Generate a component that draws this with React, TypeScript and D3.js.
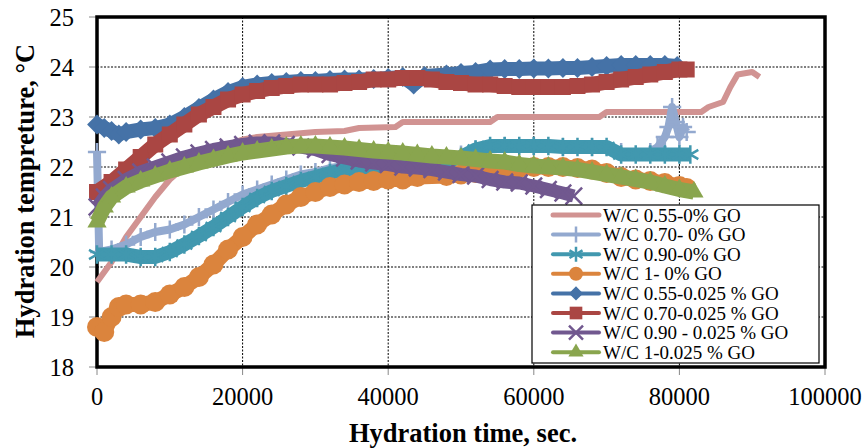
import React from "react";
import * as d3 from "d3";

const W = 867;
const H = 448;
const X0 = 97;
const X1 = 825;
const Y1 = 17;
const Y0 = 367;

const xTicks = [0, 20000, 40000, 60000, 80000, 100000];
const yTicks = [18, 19, 20, 21, 22, 23, 24, 25];

// [time (s), temperature (°C)]
const wc055_0: [number, number][] = [
  [0, 19.7], [2000, 20.1], [4000, 20.6], [6000, 21.0], [8000, 21.4], [10000, 21.75],
  [12000, 22.0], [14000, 22.2], [16000, 22.35], [18000, 22.45], [20000, 22.55], [22000, 22.6],
  [26000, 22.65], [30000, 22.7], [34000, 22.72], [36000, 22.78], [41000, 22.8], [42000, 22.9],
  [54000, 22.9], [55000, 23.0], [69000, 23.0], [70000, 23.1], [83000, 23.1], [84000, 23.2],
  [86000, 23.3], [87000, 23.6], [88000, 23.85], [90000, 23.9], [91000, 23.8],
];
const wc070_0: [number, number][] = [
  [0, 22.3], [300, 20.3], [2000, 20.35], [4000, 20.45], [6000, 20.6], [8000, 20.7],
  [10000, 20.75], [12000, 20.85], [14000, 21.0], [16000, 21.15], [18000, 21.3], [20000, 21.45],
  [22000, 21.55], [24000, 21.65], [26000, 21.75], [28000, 21.85], [30000, 21.9], [32000, 21.98],
  [34000, 22.02], [36000, 22.05], [40000, 22.08], [44000, 22.1], [48000, 22.15], [50000, 22.25],
  [52000, 22.35], [56000, 22.42], [60000, 22.42], [64000, 22.4], [68000, 22.4], [72000, 22.3],
  [76000, 22.3], [77000, 22.4], [78000, 22.6], [78500, 22.8], [79000, 23.2], [79500, 22.9],
  [80000, 22.6], [80500, 22.8], [81000, 22.7],
];
const wc090_0: [number, number][] = [
  [0, 20.25], [2000, 20.25], [4000, 20.25], [6000, 20.2], [8000, 20.2], [10000, 20.3],
  [12000, 20.45], [14000, 20.62], [16000, 20.8], [18000, 21.0], [20000, 21.2], [22000, 21.38],
  [24000, 21.52], [26000, 21.62], [28000, 21.72], [30000, 21.8], [32000, 21.88], [34000, 21.95],
  [36000, 21.98], [38000, 22.0], [40000, 22.0], [42000, 22.0], [44000, 22.0], [46000, 22.05],
  [48000, 22.1], [50000, 22.2], [52000, 22.35], [54000, 22.42], [56000, 22.42], [58000, 22.42],
  [60000, 22.42], [62000, 22.42], [64000, 22.4], [66000, 22.4], [68000, 22.4], [70000, 22.4],
  [72000, 22.25], [74000, 22.25], [76000, 22.25], [78000, 22.25], [80000, 22.25], [81500, 22.25],
];
const wc1_0: [number, number][] = [
  [0, 18.8], [1000, 18.7], [2000, 19.0], [3000, 19.2], [4000, 19.25], [6000, 19.25],
  [8000, 19.3], [10000, 19.45], [12000, 19.6], [14000, 19.8], [16000, 20.05], [18000, 20.35],
  [20000, 20.6], [22000, 20.85], [24000, 21.05], [26000, 21.25], [28000, 21.4], [30000, 21.5],
  [32000, 21.6], [34000, 21.65], [36000, 21.7], [38000, 21.72], [40000, 21.75], [42000, 21.75],
  [44000, 21.8], [48000, 21.82], [50000, 21.85], [52000, 21.88], [54000, 21.9], [56000, 21.95],
  [58000, 21.98], [60000, 22.0], [62000, 22.0], [64000, 22.0], [66000, 21.98], [68000, 21.95],
  [70000, 21.88], [72000, 21.8], [74000, 21.75], [76000, 21.72], [78000, 21.68], [80000, 21.62],
  [81000, 21.58],
];
const wc055_go: [number, number][] = [
  [0, 22.85], [1000, 22.78], [2000, 22.72], [3000, 22.65], [4000, 22.7], [6000, 22.75],
  [8000, 22.78], [10000, 22.85], [12000, 23.0], [14000, 23.18], [16000, 23.35], [18000, 23.5],
  [20000, 23.6], [22000, 23.65], [24000, 23.68], [26000, 23.7], [28000, 23.72], [30000, 23.72],
  [32000, 23.74], [34000, 23.75], [36000, 23.75], [38000, 23.76], [40000, 23.78], [42000, 23.8],
  [43500, 23.65], [45000, 23.82], [48000, 23.85], [50000, 23.88], [52000, 23.9], [54000, 23.95],
  [56000, 23.96], [58000, 23.96], [60000, 23.97], [62000, 23.97], [64000, 23.98], [66000, 23.98],
  [68000, 24.0], [70000, 24.02], [72000, 24.04], [74000, 24.04], [76000, 24.04], [78000, 24.04],
  [79700, 24.02],
];
const wc070_go: [number, number][] = [
  [0, 21.5], [2000, 21.7], [4000, 21.95], [6000, 22.2], [8000, 22.45], [10000, 22.65],
  [12000, 22.85], [14000, 23.05], [16000, 23.2], [18000, 23.35], [20000, 23.45], [22000, 23.52],
  [24000, 23.58], [26000, 23.62], [28000, 23.65], [30000, 23.65], [32000, 23.65], [34000, 23.68],
  [36000, 23.7], [38000, 23.75], [40000, 23.75], [42000, 23.78], [44000, 23.78], [46000, 23.75],
  [48000, 23.7], [50000, 23.68], [52000, 23.65], [54000, 23.65], [56000, 23.62], [58000, 23.6],
  [60000, 23.6], [62000, 23.6], [64000, 23.6], [66000, 23.62], [68000, 23.65], [70000, 23.7],
  [72000, 23.75], [74000, 23.8], [76000, 23.85], [78000, 23.9], [80000, 23.95], [81000, 23.95],
];
const wc090_go: [number, number][] = [
  [0, 21.2], [1000, 21.4], [2000, 21.55], [4000, 21.75], [6000, 21.9], [8000, 22.0],
  [10000, 22.1], [12000, 22.2], [14000, 22.28], [16000, 22.35], [18000, 22.4], [20000, 22.45],
  [22000, 22.48], [24000, 22.48], [26000, 22.45], [28000, 22.4], [30000, 22.35], [32000, 22.25],
  [34000, 22.18], [36000, 22.12], [38000, 22.08], [40000, 22.05], [42000, 22.0], [44000, 21.98],
  [46000, 21.95], [48000, 21.9], [50000, 21.85], [52000, 21.82], [54000, 21.75], [56000, 21.7],
  [58000, 21.68], [60000, 21.62], [62000, 21.55], [64000, 21.48], [65500, 21.42],
];
const wc1_go: [number, number][] = [
  [0, 20.9], [1000, 21.2], [2000, 21.4], [4000, 21.6], [6000, 21.72], [8000, 21.82],
  [10000, 21.92], [12000, 22.0], [14000, 22.08], [16000, 22.15], [18000, 22.22], [20000, 22.28],
  [22000, 22.32], [24000, 22.36], [26000, 22.4], [28000, 22.42], [30000, 22.42], [32000, 22.4],
  [34000, 22.38], [36000, 22.35], [38000, 22.32], [40000, 22.3], [42000, 22.28], [44000, 22.25],
  [46000, 22.22], [48000, 22.2], [50000, 22.18], [52000, 22.15], [54000, 22.12], [56000, 22.1],
  [58000, 22.05], [60000, 22.02], [62000, 22.0], [64000, 21.98], [66000, 21.95], [68000, 21.9],
  [70000, 21.85], [72000, 21.8], [74000, 21.75], [76000, 21.7], [78000, 21.62], [80000, 21.55],
  [82000, 21.5],
];

const seriesNames = [
  "W/C 0.55-0% GO",
  "W/C 0.70- 0% GO",
  "W/C 0.90-0% GO",
  "W/C 1- 0% GO",
  "W/C 0.55-0.025 % GO",
  "W/C 0.70-0.025 % GO",
  "W/C 0.90 - 0.025 % GO",
  "W/C 1-0.025 % GO",
];
const seriesData = [wc055_0, wc070_0, wc090_0, wc1_0, wc055_go, wc070_go, wc090_go, wc1_go];
const seriesColors = ["#D19392", "#93A9CF", "#4198AF", "#DB843D", "#4572A7", "#AA4643", "#71588F", "#89A54E"];
const seriesMarkers = ["none", "plus", "asterisk", "circle", "diamond", "square", "times", "triangle"];
// the plotted bands are far heavier than the legend samples
const bandWidths = [6, 8, 14, 15, 14, 15, 13, 15];

const d3any = d3 as any;
const bigMarkers: Record<string, string> = {
  circle: d3.symbol(d3.symbolCircle, Math.PI * 100)() as string,
  square: d3.symbol(d3.symbolSquare, 256)() as string,
  diamond: d3.symbol(d3.symbolSquare, 196)() as string,
  triangle: d3.symbol(d3.symbolTriangle, 160)() as string,
  plus: d3.symbol(d3any.symbolPlus || d3.symbolCross, 110)() as string,
  times: d3.symbol(d3any.symbolTimes || d3.symbolCross, 180)() as string,
  asterisk: d3.symbol(d3any.symbolAsterisk || d3.symbolCross, 240)() as string,
};
const smallMarkers: Record<string, string> = {
  circle: d3.symbol(d3.symbolCircle, Math.PI * 49)() as string,
  square: d3.symbol(d3.symbolSquare, 160)() as string,
  diamond: d3.symbol(d3.symbolSquare, 100)() as string,
  triangle: d3.symbol(d3.symbolTriangle, 100)() as string,
  plus: d3.symbol(d3any.symbolPlus || d3.symbolCross, 85)() as string,
  times: d3.symbol(d3any.symbolTimes || d3.symbolCross, 130)() as string,
  asterisk: d3.symbol(d3any.symbolAsterisk || d3.symbolCross, 160)() as string,
};
const strokeMarkers = ["plus", "times", "asterisk"];

const font = "'Liberation Serif', 'Times New Roman', serif";

function Marker({ kind, color, x, y, small }: { kind: string; color: string; x: number; y: number; small?: boolean }) {
  if (kind === "none") return null;
  const rot = kind === "diamond" ? " rotate(45)" : "";
  const stroked = strokeMarkers.includes(kind);
  const paths = small ? smallMarkers : bigMarkers;
  return (
    <path
      d={paths[kind]}
      transform={`translate(${x},${y})${rot}`}
      fill={stroked ? "none" : color}
      stroke={stroked ? color : "none"}
      strokeWidth={stroked ? 2.5 : 0}
    />
  );
}

export default function App() {
  const x = d3.scaleLinear().domain([0, 100000]).range([X0, X1]);
  const y = d3.scaleLinear().domain([18, 25]).range([Y0, Y1]);
  const line = d3
    .line<[number, number]>()
    .x((d) => x(d[0]))
    .y((d) => y(d[1]));

  const legX = 532;
  const legY = 205;
  const rowY = (i: number) => 215 + i * 19.6;

  return (
    <svg width={W} height={H} style={{ position: "absolute", left: 0, top: 0, background: "#fff" }} fontFamily={font}>
      {/* grid */}
      {yTicks.slice(1, -1).map((t) => (
        <line key={"gy" + t} x1={X0} x2={X1} y1={y(t)} y2={y(t)} stroke="#000" strokeWidth={1} strokeDasharray="2,1.5" />
      ))}
      {xTicks.slice(1, -1).map((t) => (
        <line key={"gx" + t} x1={x(t)} x2={x(t)} y1={Y1} y2={Y0} stroke="#000" strokeWidth={1} strokeDasharray="2,1.5" />
      ))}
      {/* ticks */}
      {yTicks.map((t) => (
        <line key={"ty" + t} x1={X0 - 8} x2={X0} y1={y(t)} y2={y(t)} stroke="#888" strokeWidth={1} />
      ))}
      {xTicks.map((t) => (
        <line key={"tx" + t} x1={x(t)} x2={x(t)} y1={Y0} y2={Y0 + 8} stroke="#888" strokeWidth={1} />
      ))}
      {/* frame */}
      <rect x={X0} y={Y1} width={X1 - X0} height={Y0 - Y1} fill="none" stroke="#000" strokeWidth={3.5} />
      {/* tick labels */}
      {yTicks.map((t) => (
        <text key={"ly" + t} x={74} y={y(t)} dy="0.35em" textAnchor="end" fontSize={24.5} fill="#000">
          {t}
        </text>
      ))}
      {xTicks.map((t) => (
        <text key={"lx" + t} x={x(t)} y={405} textAnchor="middle" fontSize={24.5} fill="#000">
          {t}
        </text>
      ))}
      {/* axis titles */}
      <text x={463} y={442} textAnchor="middle" fontSize={26.5} fontWeight="bold" fill="#000">
        Hydration  time, sec.
      </text>
      <text transform="translate(34,191) rotate(-90)" textAnchor="middle" fontSize={26.5} fontWeight="bold" fill="#000">
        Hydration tempreture, °C
      </text>
      {/* series */}
      {seriesData.map((data, i) => (
        <g key={"s" + i}>
          <path d={line(data) as string} fill="none" stroke={seriesColors[i]} strokeWidth={bandWidths[i]} strokeLinejoin="round" />
          {data.map((d, j) => (
            <Marker key={j} kind={seriesMarkers[i]} color={seriesColors[i]} x={x(d[0])} y={y(d[1])} />
          ))}
        </g>
      ))}
      {/* legend */}
      <rect x={legX} y={legY} width={287} height={158} fill="#fff" stroke="#000" strokeWidth={1.2} />
      {seriesNames.map((name, i) => (
        <g key={"lg" + i}>
          <line x1={553} x2={599} y1={rowY(i)} y2={rowY(i)} stroke={seriesColors[i]} strokeWidth={i === 0 ? 5 : 4} strokeLinecap="round" />
          <Marker kind={seriesMarkers[i]} color={seriesColors[i]} x={576} y={rowY(i)} small />
          <text x={603} y={rowY(i)} dy="0.35em" fontSize={19} fill="#000">
            {name}
          </text>
        </g>
      ))}
    </svg>
  );
}
